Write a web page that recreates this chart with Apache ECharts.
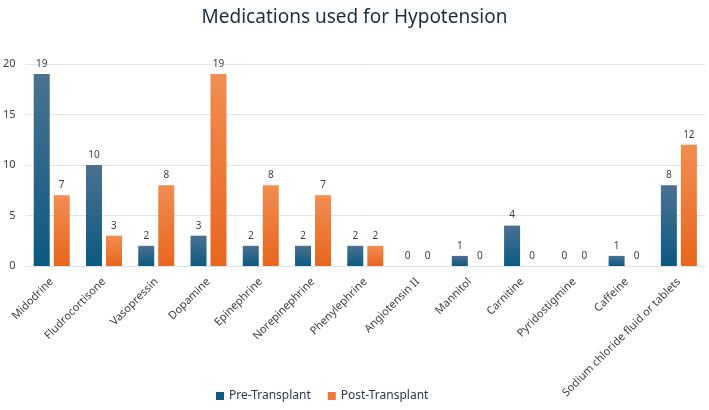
<!DOCTYPE html>
<html>
<head>
<meta charset="utf-8">
<script src="https://cdn.jsdelivr.net/npm/echarts@6/dist/echarts.min.js"></script>
<style>
  html, body { margin: 0; padding: 0; background: #fff; }
  #chart { width: 709px; height: 410px; }
</style>
</head>
<body>
<div id="chart"></div>
<script>
// categories and values
var medications = ["Midodrine", "Fludrocortisone", "Vasopressin", "Dopamine", "Epinephrine",
  "Norepinephrine", "Phenylephrine", "Angiotensin II", "Mannitol", "Carnitine",
  "Pyridostigmine", "Caffeine", "Sodium chloride fluid or tablets"];
var preTransplant = [19, 10, 2, 3, 2, 2, 2, 0, 1, 4, 0, 1, 8];
var postTransplant = [7, 3, 8, 19, 8, 7, 2, 0, 0, 0, 0, 0, 12];
var yTicks = [0, 5, 10, 15, 20];

var chart = echarts.init(document.getElementById("chart"));

var blue = new echarts.graphic.LinearGradient(0, 0, 0, 1, [
  { offset: 0, color: "#4b7191" },
  { offset: 1, color: "#0b5a80" }
]);
var orange = new echarts.graphic.LinearGradient(0, 0, 0, 1, [
  { offset: 0, color: "#f28d52" },
  { offset: 1, color: "#e8661d" }
]);

var labelStyle = {
  show: true,
  position: "top",
  distance: 5,
  color: "#404040",
  fontSize: 10,
  fontFamily: "Noto Sans"
};

chart.setOption({
  animation: false,
  title: {
    text: "Medications used for Hypotension",
    left: "center",
    top: 3,
    textStyle: { fontSize: 19, fontWeight: "normal", color: "#1f2c3d", fontFamily: "Noto Sans" }
  },
  legend: {
    bottom: 3,
    left: 211,
    itemWidth: 8,
    itemHeight: 8,
    itemGap: 17,
    icon: "rect",
    textStyle: { fontSize: 12, color: "#2b3a4a", fontFamily: "Noto Sans" },
    data: [
      { name: "Pre-Transplant", itemStyle: { color: "#10597f" } },
      { name: "Post-Transplant", itemStyle: { color: "#ee7a35" } }
    ]
  },
  grid: { left: 25, right: 4, top: 64, bottom: 144 },
  xAxis: {
    type: "category",
    data: medications,
    axisTick: { show: false },
    axisLine: { lineStyle: { color: "#dbe3ec" } },
    axisLabel: {
      interval: 0,
      rotate: 45,
      margin: 14,
      fontSize: 11,
      color: "#404040",
      fontFamily: "Noto Sans"
    }
  },
  yAxis: {
    type: "value",
    min: yTicks[0],
    max: yTicks[yTicks.length - 1],
    interval: 5,
    axisLabel: { margin: 10, fontSize: 11, color: "#404040", fontFamily: "Noto Sans" },
    splitLine: { lineStyle: { color: "#dde6ef" } }
  },
  series: [
    {
      name: "Pre-Transplant",
      type: "bar",
      data: preTransplant,
      barWidth: 16,
      barGap: "25%",
      itemStyle: { color: blue },
      label: labelStyle
    },
    {
      name: "Post-Transplant",
      type: "bar",
      data: postTransplant,
      barWidth: 16,
      itemStyle: { color: orange },
      label: labelStyle
    }
  ]
});
</script>
</body>
</html>
